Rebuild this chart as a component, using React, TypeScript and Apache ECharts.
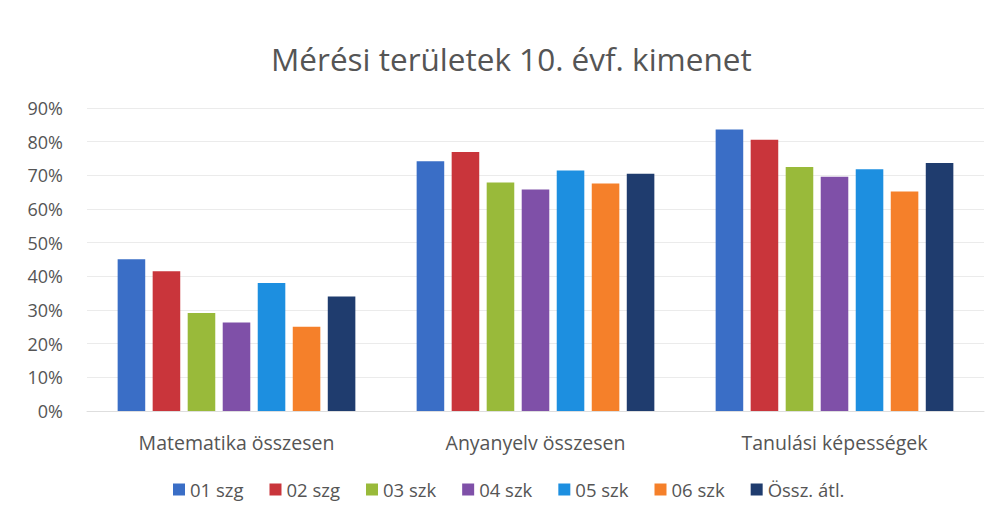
import React, { useEffect, useRef } from "react";
import * as echarts from "echarts";

const categories = ["Matematika összesen", "Anyanyelv összesen", "Tanulási képességek"];
const seriesNames = ["01 szg", "02 szg", "03 szk", "04 szk", "05 szk", "06 szk", "Össz. átl."];
const s01 = [45.1, 74.2, 83.6];
const s02 = [41.5, 76.9, 80.6];
const s03 = [29.1, 67.9, 72.5];
const s04 = [26.3, 65.8, 69.6];
const s05 = [38.0, 71.4, 71.8];
const s06 = [25.0, 67.6, 65.2];
const s07 = [34.0, 70.5, 73.7];
const seriesValues = [s01, s02, s03, s04, s05, s06, s07];
const colors = ["#3a6ec6", "#c9353b", "#99ba3a", "#7f50a8", "#1d8fe0", "#f5802a", "#1f3c6e"];
const yTicks = [0, 10, 20, 30, 40, 50, 60, 70, 80, 90];

export default function App() {
  const ref = useRef<HTMLDivElement>(null);
  useEffect(() => {
    if (!ref.current) return;
    const chart = echarts.init(ref.current, null, { renderer: "svg" });
    const font = "'Open Sans', sans-serif";
    chart.setOption({
      animation: false,
      backgroundColor: "#ffffff",
      title: {
        text: "Mérési területek 10. évf. kimenet",
        left: 266,
        top: 37,
        textStyle: { fontFamily: font, fontSize: 31.5, fontWeight: "normal", color: "#555555" },
      },
      grid: { left: 87, right: 14, top: 108, bottom: 113, containLabel: false },
      legend: {
        bottom: 20,
        left: 168,
        itemWidth: 12,
        itemHeight: 12,
        itemGap: 26,
        itemStyle: { borderWidth: 0 },
        icon: "rect",
        textStyle: { fontFamily: font, fontSize: 18.5, color: "#555555" },
        data: seriesNames,
      },
      xAxis: {
        type: "category",
        data: categories,
        axisLine: { lineStyle: { color: "#dedede" } },
        axisTick: { show: false },
        axisLabel: { fontFamily: font, fontSize: 19.5, color: "#555555", margin: 21 },
      },
      yAxis: {
        type: "value",
        min: yTicks[0],
        max: yTicks[yTicks.length - 1],
        interval: 10,
        axisLine: { show: false },
        axisTick: { show: false },
        splitLine: { lineStyle: { color: "#ebebeb" } },
        axisLabel: { fontFamily: font, fontSize: 18, color: "#555555", formatter: "{value}%", margin: 24 },
      },
      series: seriesNames.map((name, i) => ({
        name,
        type: "bar",
        data: seriesValues[i],
        itemStyle: { color: colors[i] },
        barGap: "27%",
        barCategoryGap: "20.5%",
      })),
    });
    return () => chart.dispose();
  }, []);
  return (
    <div
      ref={ref}
      style={{ position: "fixed", left: 0, top: 0, width: 998, height: 524 }}
    />
  );
}
